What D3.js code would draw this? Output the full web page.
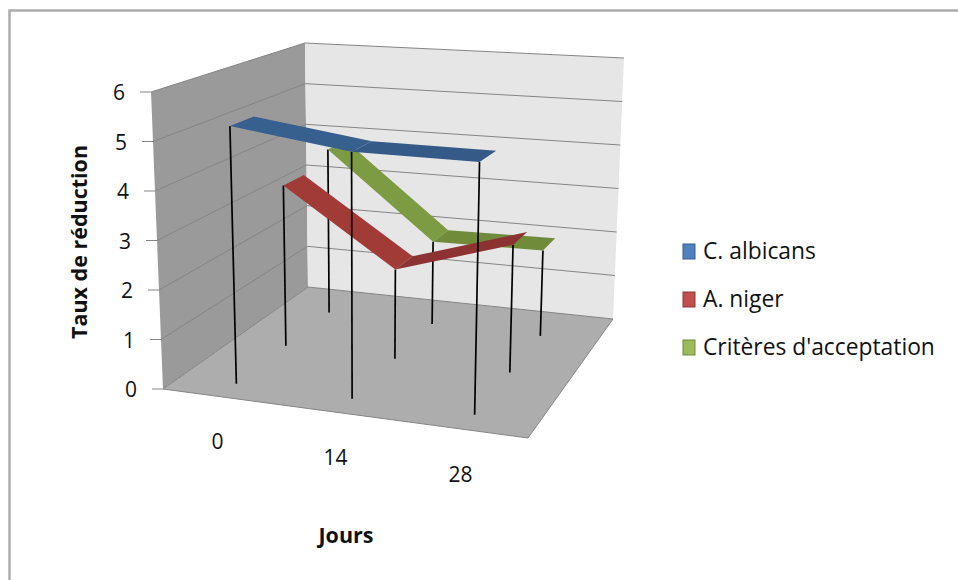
<!DOCTYPE html>
<meta charset="utf-8">
<style>
    body { margin: 0; background: #fff; }
    text { font-family: "Open Sans", sans-serif; fill: #111; }
</style>
<svg width="958" height="580"></svg>
<script src="https://d3js.org/d3.v7.min.js"></script>
<script>

    var categories = ["0", "14", "28"];
    var seriesNames = ["C. albicans", "A. niger", "Critères d'acceptation"];
    var cAlbicans = [5.25, 4.9, 4.88];
    var aNiger = [3.5, 1.9, 2.65];
    var criteres = [3.8, 1.87, 1.9];
    var yTicks = [0, 1, 2, 3, 4, 5, 6];

    var colors = [
        {top: "#37608f", dark: "#345a88", key: "#4f81bd", edge: "#385d8a"},
        {top: "#a03b38", dark: "#8c3331", key: "#c0504d", edge: "#8c3836"},
        {top: "#7b9b42", dark: "#6f8c3a", key: "#9bbb59", edge: "#71893f"}
    ];

    // box corners on screen: front left, front right, back right, back left
    var floorQuad = [[163, 389], [528, 438], [613, 319], [308, 287]],
        topQuad = [[151, 92], [537, 115], [624, 58], [305, 43]];

    function homography(q) {
        var dx1 = q[1][0] - q[2][0], dx2 = q[3][0] - q[2][0], sx = q[0][0] - q[1][0] + q[2][0] - q[3][0],
            dy1 = q[1][1] - q[2][1], dy2 = q[3][1] - q[2][1], sy = q[0][1] - q[1][1] + q[2][1] - q[3][1],
            den = dx1 * dy2 - dx2 * dy1,
            g = (sx * dy2 - dx2 * sy) / den,
            h = (dx1 * sy - sx * dy1) / den,
            a = q[1][0] - q[0][0] + g * q[1][0], b = q[3][0] - q[0][0] + h * q[3][0],
            d = q[1][1] - q[0][1] + g * q[1][1], e = q[3][1] - q[0][1] + h * q[3][1];
        return function(u, w) {
            var k = g * u + h * w + 1;
            return [(a * u + b * w + q[0][0]) / k, (d * u + e * w + q[0][1]) / k];
        };
    }

    var floorH = homography(floorQuad), topH = homography(topQuad);

    var x = d3.scalePoint().domain(categories).range([0, 1]).padding(0.5),
        y = d3.scaleLinear().domain([0, 6]).range([0, 1]),
        z = d3.scaleBand().domain(seriesNames).range([0, 1]);

    // u along the categories, v = value, w = depth towards the back wall
    function project(u, v, w) {
        var a = floorH(u, w), b = topH(u, w), t = y(v);
        return [a[0] + (b[0] - a[0]) * t, a[1] + (b[1] - a[1]) * t];
    }

    var path = d3.line().curve(d3.curveLinearClosed);

    var svg = d3.select("svg");

    var defs = svg.append("defs");
    defs.append("filter").attr("id", "soft")
        .append("feGaussianBlur").attr("stdDeviation", 0.45);

    // chart frame, only top and left fall inside the picture
    svg.append("path")
        .attr("fill", "none").attr("stroke", "#adadad").attr("stroke-width", 2.5)
        .attr("d", "M9.5,580V10.5H958");

    var g = svg.append("g").attr("filter", "url(#soft)");

    // walls and floor
    g.append("path").attr("fill", "#9a9a9a")
        .attr("d", path([project(0, 0, 0), project(0, 6, 0), project(0, 6, 1), project(0, 0, 1)]));
    g.append("path").attr("fill", "#e6e6e6")
        .attr("d", path([project(0, 0, 1), project(0, 6, 1), project(1, 6, 1), project(1, 0, 1)]));
    g.append("path").attr("fill", "#adadad")
        .attr("d", path([project(0, 0, 0), project(1, 0, 0), project(1, 0, 1), project(0, 0, 1)]));

    // gridlines and ticks
    yTicks.forEach(function(t) {
        var a = project(0, t, 0), b = project(0, t, 1), c = project(1, t, 1);
        g.append("path").attr("fill", "none").attr("stroke", "#858585").attr("stroke-width", 1)
            .attr("d", d3.line()([[a[0] - 11, a[1]], a, b, c]));
        svg.append("text")
            .attr("x", a[0] - 26).attr("y", a[1] + 1)
            .attr("dy", "0.35em").attr("text-anchor", "end")
            .style("font-size", "21px")
            .text(t);
    });
    g.append("path").attr("fill", "none").attr("stroke", "#858585")
        .attr("d", d3.line()([project(0, 0, 0), project(1, 0, 0), project(1, 0, 1)]));

    // series, back to front
    var allSeries = [cAlbicans, aNiger, criteres];
    d3.range(2, -1, -1).forEach(function(s) {
        var values = allSeries[s],
            wf = z(seriesNames[s]) + z.bandwidth() * 0.31,
            wb = z(seriesNames[s]) + z.bandwidth() * 0.75;

        categories.forEach(function(c, i) {
            var u = x(c);
            g.append("path").attr("fill", "none").attr("stroke", "#000").attr("stroke-width", 1.7)
                .attr("d", d3.line()([project(u, values[i], wf), project(u, 0, wf)]));
        });

        d3.pairs(categories).forEach(function(p, i) {
            var u0 = x(p[0]), u1 = x(p[1]);
            g.append("path")
                .attr("fill", i ? colors[s].dark : colors[s].top)
                .attr("d", path([
                    project(u0, values[i], wf), project(u1, values[i + 1], wf),
                    project(u1, values[i + 1], wb), project(u0, values[i], wb)
                ]));
        });
    });

    // category labels under the front edge
    categories.forEach(function(c) {
        var p = project(x(c), 0, 0);
        svg.append("text")
            .attr("x", p[0] - 2).attr("y", p[1] + 45)
            .attr("dy", "0.35em").attr("text-anchor", "middle")
            .style("font-size", "21px")
            .text(c);
    });

    svg.append("text")
        .attr("x", 346).attr("y", 535).attr("dy", "0.35em")
        .attr("text-anchor", "middle")
        .style("font-size", "21.5px").style("font-weight", "bold")
        .text("Jours");

    svg.append("text")
        .attr("transform", "translate(79,242) rotate(-90)")
        .attr("dy", "0.35em").attr("text-anchor", "middle")
        .style("font-size", "21.5px").style("font-weight", "bold")
        .text("Taux de réduction");

    // legend
    var legendY = d3.scalePoint().domain(seriesNames).range([251, 347]);
    seriesNames.forEach(function(name, i) {
        svg.append("rect")
            .attr("x", 683).attr("y", legendY(name) - 7)
            .attr("width", 12).attr("height", 15)
            .attr("fill", colors[i].key).attr("stroke", colors[i].edge);
        svg.append("text")
            .attr("x", 703).attr("y", legendY(name))
            .attr("dy", "0.35em")
            .style("font-size", "22.8px")
            .text(name);
    });

</script>
